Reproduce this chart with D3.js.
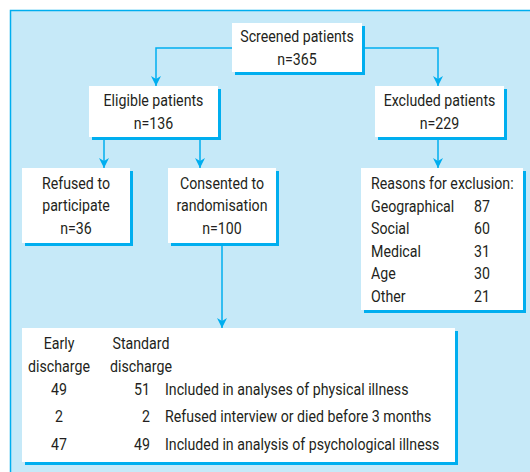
<!DOCTYPE html>
<html>
<head>
<meta charset="utf-8">
<script src="https://cdn.jsdelivr.net/npm/d3@7"></script>
<style>
  body { margin: 0; background: #fff; }
  svg text { font-family: Roboto, "DejaVu Sans Condensed", sans-serif; fill: #231f20; font-size: 16.5px; }
</style>
</head>
<body>
<div id="chart"></div>
<script>
// flowchart content
var boxes = [
  { id: 'screened', lines: ['Screened patients', 'n=365'] },
  { id: 'eligible', lines: ['Eligible patients', 'n=136'] },
  { id: 'excluded', lines: ['Excluded patients', 'n=229'] },
  { id: 'refused', lines: ['Refused to', 'participate', 'n=36'] },
  { id: 'consented', lines: ['Consented to', 'randomisation', 'n=100'] }
];
var reasonsTitle = 'Reasons for exclusion:';
var reasonLabels = ['Geographical', 'Social', 'Medical', 'Age', 'Other'];
var reasonCounts = [87, 60, 31, 30, 21];
var groupHeaders = [['Early', 'discharge'], ['Standard', 'discharge']];
var earlyCounts = [49, 2, 47];
var standardCounts = [51, 2, 49];
var outcomeLabels = ['Included in analyses of physical illness',
                     'Refused interview or died before 3 months',
                     'Included in analysis of psychological illness'];

var W = 530, H = 472;
var blue = '#00aeef', panel = '#c6e9f8';
var squeeze = 0.86; // condensed look

// box layout
var layout = {
  screened:  { x: 232, y: 23,  w: 130, h: 49 },
  eligible:  { x: 89,  y: 86,  w: 129, h: 51 },
  excluded:  { x: 375, y: 86,  w: 129, h: 51 },
  refused:   { x: 22,  y: 168, w: 108, h: 75 },
  consented: { x: 168, y: 168, w: 108, h: 75 },
  reasons:   { x: 361, y: 168, w: 162, h: 142 },
  outcome:   { x: 22,  y: 328, w: 433, h: 134 }
};

var svg = d3.select('#chart').append('svg')
  .attr('width', W).attr('height', H);

var defs = svg.append('defs');
defs.append('marker')
  .attr('id', 'arr').attr('viewBox', '0 0 10 10')
  .attr('refX', 10).attr('refY', 5)
  .attr('markerWidth', 10).attr('markerHeight', 10)
  .attr('markerUnits', 'userSpaceOnUse')
  .attr('orient', 'auto')
  .append('path').attr('d', 'M0,0 L10,5 L0,10 L3,5 Z').attr('fill', blue);

// background panel
svg.append('rect')
  .attr('x', 10.5).attr('y', 10.5).attr('width', W).attr('height', H)
  .attr('fill', panel).attr('stroke', blue).attr('stroke-width', 1.5);

// arrows
var line = d3.line();
var arrows = [
  [[232, 48], [156, 48], [156, 86]],
  [[362, 48], [438, 48], [438, 86]],
  [[104, 140], [104, 168]],
  [[200, 140], [200, 168]],
  [[438, 140], [438, 168]],
  [[222, 246], [222, 328]]
];
svg.selectAll('path.arrow').data(arrows).enter().append('path')
  .attr('class', 'arrow')
  .attr('d', line)
  .attr('fill', 'none').attr('stroke', blue).attr('stroke-width', 1.5)
  .attr('marker-end', 'url(#arr)');

function drawBox(b) {
  svg.append('rect').attr('x', b.x + 3).attr('y', b.y + 3)
    .attr('width', b.w).attr('height', b.h).attr('fill', blue);
  svg.append('rect').attr('x', b.x).attr('y', b.y)
    .attr('width', b.w).attr('height', b.h).attr('fill', '#fff');
}

Object.keys(layout).forEach(function (k) { drawBox(layout[k]); });

// put a row of texts, squeezed horizontally
function put(data, fx, fy, anchor) {
  svg.append('g').selectAll('text').data(data).enter().append('text')
    .attr('transform', function (d, i) {
      return 'translate(' + fx(d, i) + ',' + fy(d, i) + ') scale(' + squeeze + ',1)';
    })
    .attr('dy', '0.36em')
    .attr('text-anchor', anchor || 'start')
    .text(function (d) { return d; });
}

// simple boxes with centered lines
boxes.forEach(function (d) {
  var b = layout[d.id];
  var n = d.lines.length;
  var step = 22.5;
  var y0 = b.y + b.h / 2 - (n - 1) * step / 2;
  put(d.lines, function () { return b.x + b.w / 2; },
      function (t, i) { return y0 + i * step; }, 'middle');
});

// reasons box
var rb = layout.reasons;
var ry = d3.scaleLinear().domain([0, 5]).range([rb.y + 15, rb.y + 15 + 5 * 22.6]);
put([reasonsTitle], function () { return rb.x + 10; }, function () { return ry(0); });
put(reasonLabels, function () { return rb.x + 10; }, function (d, i) { return ry(i + 1); });
put(reasonCounts, function () { return rb.x + 113; }, function (d, i) { return ry(i + 1); });

// outcome box
var ob = layout.outcome;
var hx = [59, 141];
groupHeaders.forEach(function (lines, j) {
  put(lines, function () { return hx[j]; },
      function (t, i) { return ob.y + 15 + i * 23; }, 'middle');
});
var oy = d3.scaleBand().domain(d3.range(3)).range([ob.y + 47, ob.y + 130]);
var rowY = function (d, i) { return oy(i) + oy.bandwidth() / 2; };
put(earlyCounts, function () { return 59; }, rowY, 'middle');
put(standardCounts, function () { return 150; }, rowY, 'end');
put(outcomeLabels, function () { return 165; }, rowY);
</script>
</body>
</html>
